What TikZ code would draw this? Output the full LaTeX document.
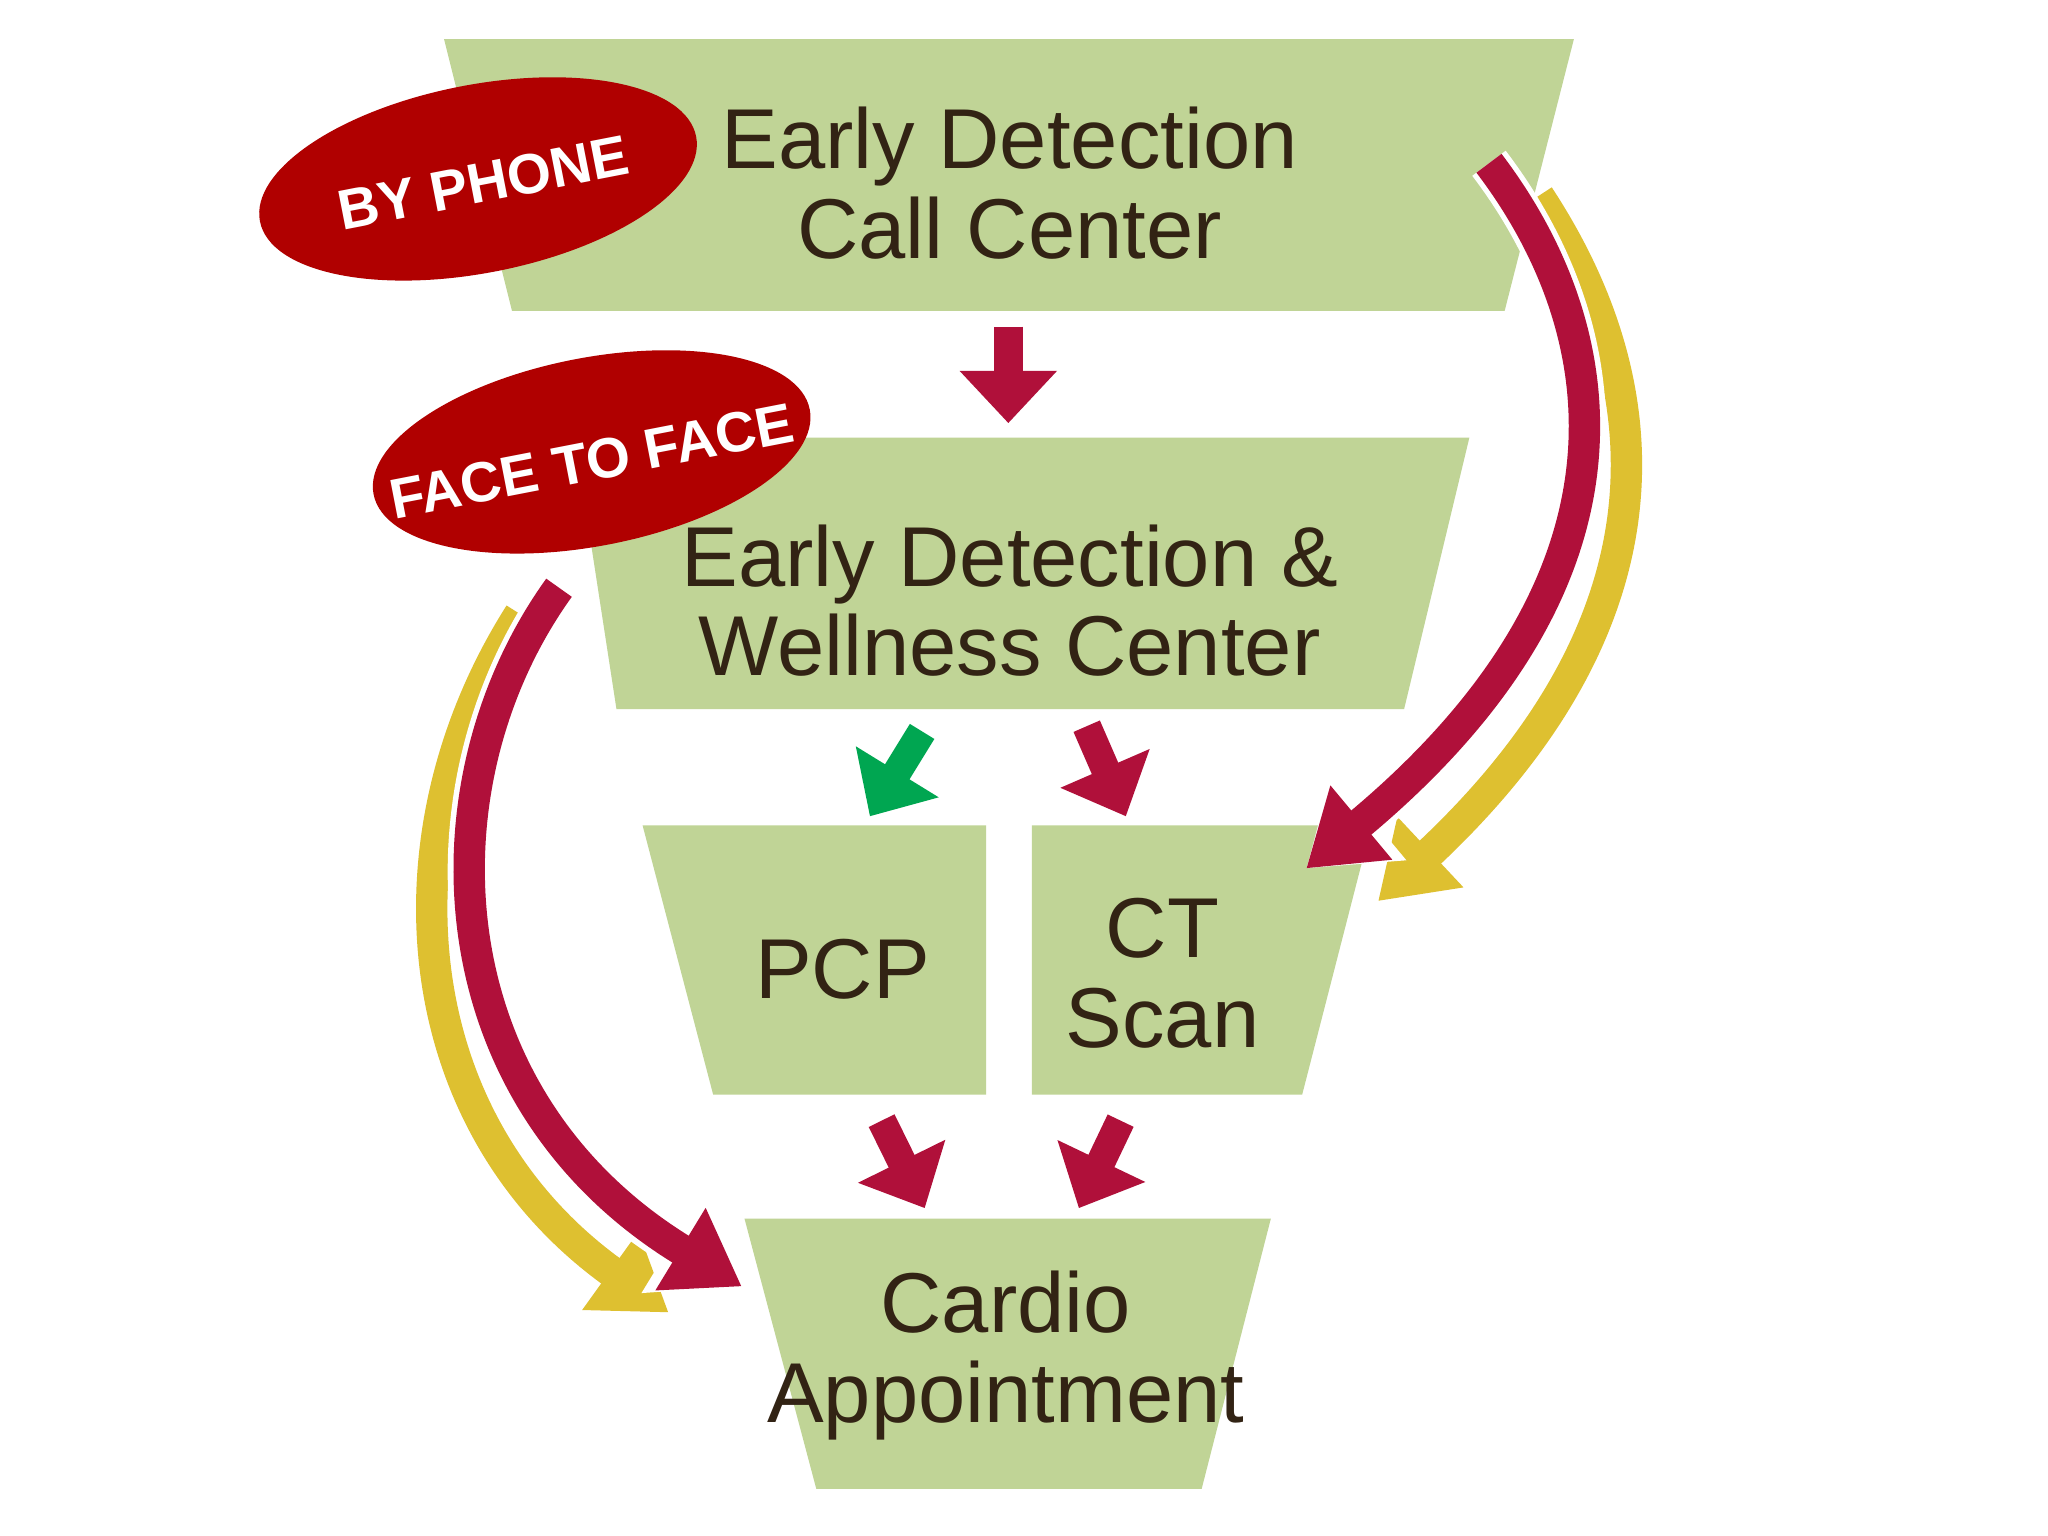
\documentclass[tikz,border=0pt]{standalone}
\usepackage{fontspec}
\setmainfont{Liberation Sans}
\usetikzlibrary{arrows.meta,shapes.geometric}
\definecolor{box}{RGB}{192,212,150}
\definecolor{ell}{RGB}{176,0,0}
\definecolor{ared}{RGB}{176,16,58}
\definecolor{ayel}{RGB}{222,192,48}
\definecolor{agrn}{RGB}{0,166,81}
\definecolor{txt}{RGB}{50,35,20}
\begin{document}
\begin{tikzpicture}[x=0.01cm,y=-0.01cm,
  lbl/.style={text=txt,align=center,font=\fontsize{18.5}{19.5}\selectfont},
  tag/.style={text=white,font=\bfseries\fontsize{12.3}{14}\selectfont},
  blk/.style={line width=0.22cm,-{Triangle[length=0.4cm,width=0.72cm]}},
  curve/.style={line width=0.24cm,-{Triangle[length=0.55cm,width=0.7cm]}},
  halo/.style={line width=0.32cm,white,-{Triangle[length=0.63cm,width=0.84cm]}}]
\fill[white] (0,0) rectangle (1568,1176);
\useasboundingbox (0,0) rectangle (1568,1176);
% boxes
\fill[box] (340,30) -- (1205,30) -- (1152,238) -- (392,238) -- cycle;
\fill[box] (440,335) -- (1125,335) -- (1075,543) -- (472,543) -- cycle;
\fill[box] (492,632) -- (755,632) -- (755,838) -- (546,838) -- cycle;
\fill[box] (790,632) -- (1050,632) -- (997,838) -- (790,838) -- cycle;
\fill[box] (570,933) -- (973,933) -- (920,1140) -- (625,1140) -- cycle;
\node[lbl] (call) at (773,140) {Early Detection\\Call Center};
\node[lbl] (well) at (773,460) {Early Detection \&\\Wellness Center};
\node[lbl] (pcp) at (645,742) {PCP};
\node[lbl] (ct) at (890,745) {CT\\Scan};
\node[lbl] (cardio) at (770,1038) {Cardio\\Appointment};
% curved arrows
\coordinate (r1s) at (1140,125); \coordinate (r1e) at (1000,665);
\coordinate (y1s) at (1178,150); \coordinate (y1e) at (1055,690);
\coordinate (r2s) at (428,450); \coordinate (r2e) at (568,985);
\coordinate (y2s) at (398,470); \coordinate (y2e) at (512,1005);
\draw[halo] (y1s) .. controls (1270,290) and (1290,470) .. (y1e);
\draw[curve,ayel] (y1s) .. controls (1270,290) and (1290,470) .. (y1e);
\draw[halo] (r1s) .. controls (1235,250) and (1270,440) .. (r1e);
\draw[curve,ared] (r1s) .. controls (1235,250) and (1270,440) .. (r1e);
\draw[halo] (y2s) .. controls (290,640) and (310,860) .. (y2e);
\draw[curve,ayel] (y2s) .. controls (290,640) and (310,860) .. (y2e);
\draw[halo] (r2s) .. controls (320,600) and (330,840) .. (r2e);
\draw[curve,ared] (r2s) .. controls (320,600) and (330,840) .. (r2e);
% block arrows
\coordinate (a1) at (772,250); \coordinate (a2) at (772,324);
\coordinate (g1) at (706,560); \coordinate (g2) at (666,625);
\coordinate (b1) at (832,556); \coordinate (b2) at (862,625);
\coordinate (c1) at (675,858); \coordinate (c2) at (708,925);
\coordinate (d1) at (858,858); \coordinate (d2) at (826,925);
\draw[blk,ared] (a1) -- (a2);
\draw[blk,agrn] (g1) -- (g2);
\draw[blk,ared] (b1) -- (b2);
\draw[blk,ared] (c1) -- (c2);
\draw[blk,ared] (d1) -- (d2);
% tags
\fill[ell,rotate around={11:(366,137)}] (366,137) ellipse [x radius=1.7cm,y radius=0.72cm];
\fill[ell,rotate around={11:(453,346)}] (453,346) ellipse [x radius=1.7cm,y radius=0.72cm];
\node[tag,rotate=11] (phone) at (370,140) {BY PHONE};
\node[tag,rotate=11] (face) at (453,353) {FACE TO FACE};
\end{tikzpicture}
\end{document}
